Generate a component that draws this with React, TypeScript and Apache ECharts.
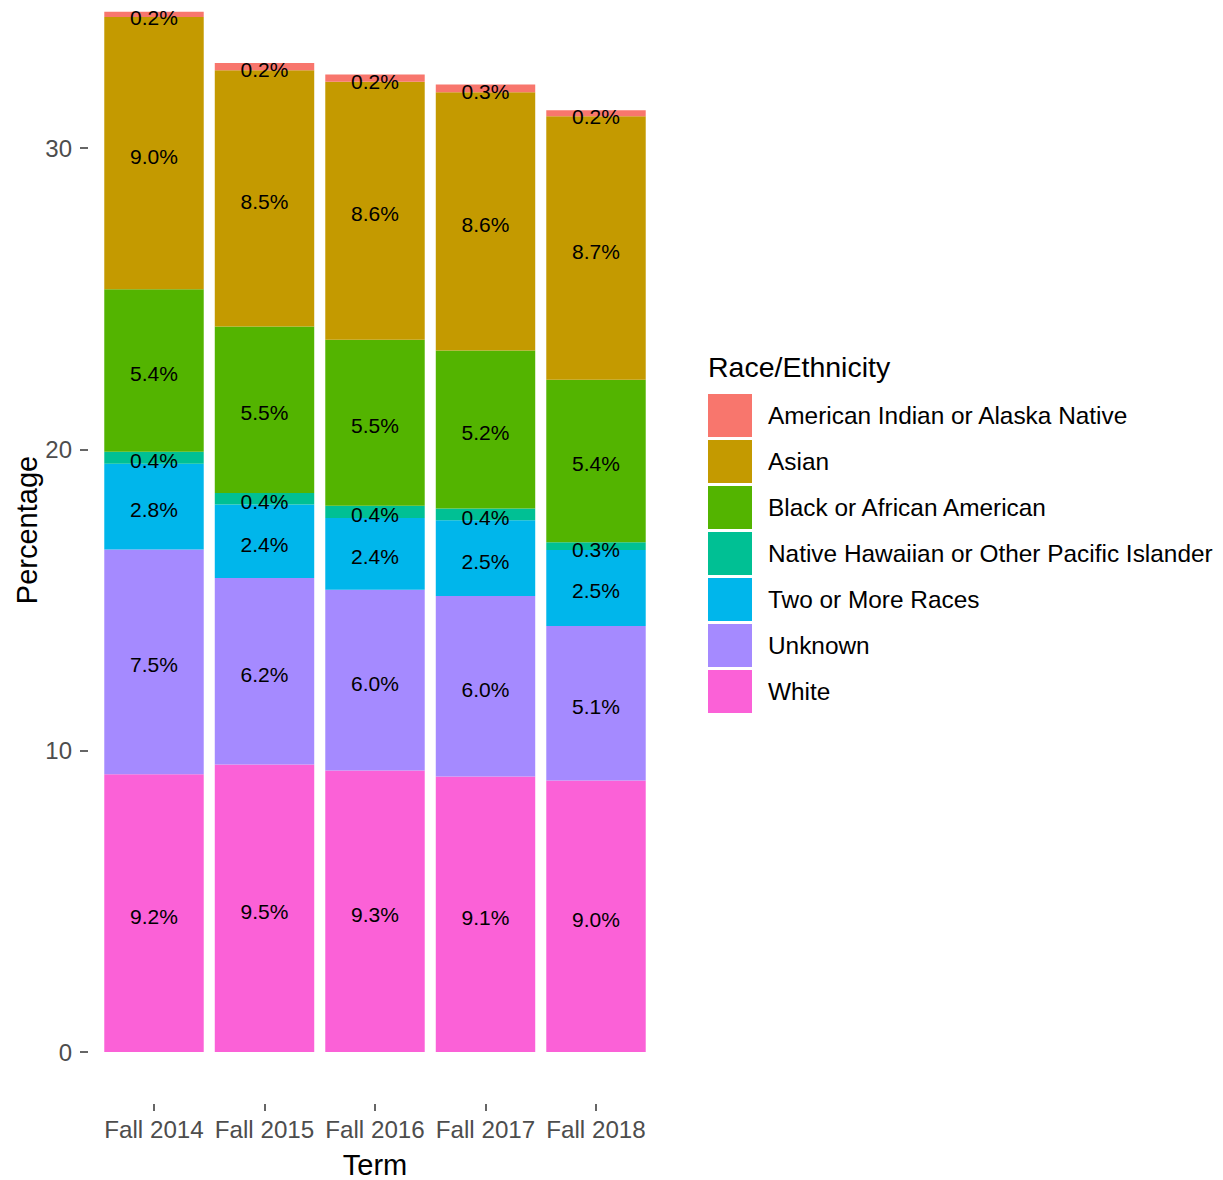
import React, { useEffect, useRef } from "react";
import * as echarts from "echarts";

const terms = ["Fall 2014", "Fall 2015", "Fall 2016", "Fall 2017", "Fall 2018"];

const white = [9.22, 9.54, 9.34, 9.14, 9.01];
const unknown = [7.46, 6.19, 6.0, 5.99, 5.13];
const twoOrMore = [2.84, 2.44, 2.38, 2.52, 2.52];
const nativeHawaiian = [0.4, 0.38, 0.41, 0.39, 0.26];
const black = [5.39, 5.53, 5.51, 5.24, 5.39];
const asian = [9.04, 8.5, 8.56, 8.57, 8.74];
const americanIndian = [0.17, 0.24, 0.24, 0.26, 0.2];

const yTicks = [0, 10, 20, 30];

const groups = [
  { name: "White", color: "#FB61D7", data: white },
  { name: "Unknown", color: "#A58AFF", data: unknown },
  { name: "Two or More Races", color: "#00B6EB", data: twoOrMore },
  { name: "Native Hawaiian or Other Pacific Islander", color: "#00C094", data: nativeHawaiian },
  { name: "Black or African American", color: "#53B400", data: black },
  { name: "Asian", color: "#C49A00", data: asian },
  { name: "American Indian or Alaska Native", color: "#F8766D", data: americanIndian },
];

const FONT = "'Liberation Sans', Arial, sans-serif";

export default function App() {
  const ref = useRef<HTMLDivElement>(null);

  useEffect(() => {
    if (!ref.current) return;
    const chart = echarts.init(ref.current, null, { renderer: "svg" });
    const option: any = {
      animation: false,
      backgroundColor: "#ffffff",
      textStyle: { fontFamily: FONT },
      grid: {
        left: 98.75,
        right: 571.75,
        top: 9.4,
        bottom: 76,
        outerBoundsMode: "none",
        containLabel: false,
      },
      legend: {
        orient: "vertical",
        left: 708,
        top: 394,
        padding: 0,
        itemWidth: 44,
        itemHeight: 43,
        itemGap: 3,
        icon: "rect",
        data: [...groups].reverse().map((g) => g.name),
        textStyle: {
          fontFamily: FONT,
          fontSize: 24.4,
          color: "#000000",
          padding: [0, 0, 0, 11],
        },
      },
      graphic: [
        {
          type: "text",
          left: 708,
          top: 352,
          style: {
            text: "Race/Ethnicity",
            fontFamily: FONT,
            fontSize: 28.5,
            fill: "#000000",
          },
        },
        {
          type: "text",
          x: 27,
          y: 530,
          rotation: Math.PI / 2,
          style: {
            text: "Percentage",
            fontFamily: FONT,
            fontSize: 29,
            fill: "#000000",
            textAlign: "center",
            textVerticalAlign: "middle",
          },
        },
      ],
      xAxis: {
        type: "category",
        data: terms,
        axisLine: { show: false, onZero: false },
        axisTick: {
          show: true,
          alignWithLabel: true,
          interval: 0,
          length: 7,
          lineStyle: { color: "#333333", width: 1.5 },
        },
        axisLabel: {
          interval: 0,
          margin: 13,
          fontSize: 24.2,
          color: "#4D4D4D",
          fontFamily: FONT,
        },
        name: "Term",
        nameLocation: "middle",
        nameGap: 46,
        nameTextStyle: { fontSize: 29, color: "#000000", fontFamily: FONT },
        splitLine: { show: false },
      },
      yAxis: {
        type: "value",
        min: -1.725,
        max: 34.6,
        offset: 10.75,
        axisLine: { show: false },
        axisTick: {
          show: true,
          length: 8,
          customValues: yTicks,
          lineStyle: { color: "#333333", width: 1.5 },
        },
        axisLabel: {
          margin: 16,
          fontSize: 24,
          color: "#4D4D4D",
          fontFamily: FONT,
          customValues: yTicks,
        },
        splitLine: { show: false },
      },
      series: groups.map((g) => ({
        name: g.name,
        type: "bar",
        stack: "total",
        barWidth: "90%",
        data: g.data,
        itemStyle: { color: g.color },
        label: {
          show: true,
          position: "inside",
          offset: [0, 3],
          color: "#000000",
          fontSize: 21,
          fontFamily: FONT,
          formatter: (p: any) => Number(p.value).toFixed(1) + "%",
        },
      })),
    };
    chart.setOption(option);
    return () => chart.dispose();
  }, []);

  return (
    <div
      ref={ref}
      style={{ position: "fixed", left: 0, top: 0, width: 1223, height: 1180, background: "#fff" }}
    />
  );
}
